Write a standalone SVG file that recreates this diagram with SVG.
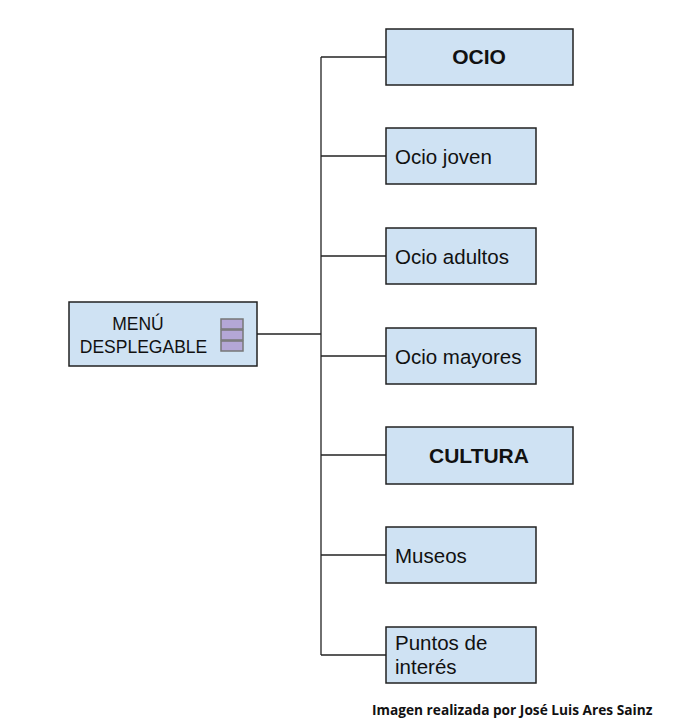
<svg xmlns="http://www.w3.org/2000/svg" width="697" height="728" viewBox="0 0 697 728">
<style>
.box{fill:#cfe2f3;stroke:#222;stroke-width:1.5}
.ln{stroke:#222;stroke-width:1.3;fill:none}
.t{font-family:"Liberation Sans",Arial,sans-serif;font-size:20.5px;fill:#111}
.b{font-weight:bold;font-size:21px}
.m{font-size:17.5px}
.bar{fill:#b4a7d6;stroke:#777;stroke-width:1.5}
.cr{font-family:"Open Sans","DejaVu Sans",sans-serif;font-weight:bold;font-size:13.7px;fill:#111}
</style>
<rect width="697" height="728" fill="#fff"/>
<g id="connectors">
<line class="ln" x1="321" y1="57" x2="321" y2="655"/>
<line class="ln" x1="257" y1="334" x2="321" y2="334"/>
<line class="ln" x1="321" y1="57" x2="386" y2="57"/>
<line class="ln" x1="321" y1="156" x2="386" y2="156"/>
<line class="ln" x1="321" y1="256" x2="386" y2="256"/>
<line class="ln" x1="321" y1="356" x2="386" y2="356"/>
<line class="ln" x1="321" y1="455" x2="386" y2="455"/>
<line class="ln" x1="321" y1="555" x2="386" y2="555"/>
<line class="ln" x1="321" y1="655" x2="386" y2="655"/>
</g>
<g id="menu">
<rect class="box" x="69" y="302" width="188" height="64"/>
<text class="t m" x="138" y="330" text-anchor="middle">MENÚ</text>
<text class="t m" x="143.5" y="353" text-anchor="middle">DESPLEGABLE</text>
<rect class="bar" x="221" y="319" width="22" height="10"/>
<rect class="bar" x="221" y="330" width="22" height="10"/>
<rect class="bar" x="221" y="341" width="22" height="10"/>
</g>
<g id="ocio">
<rect class="box" x="386" y="29" width="187" height="56"/>
<text class="t b" x="479" y="64" text-anchor="middle">OCIO</text>
</g>
<g id="ocio-joven">
<rect class="box" x="386" y="128" width="150" height="56"/>
<text class="t" x="395" y="164">Ocio joven</text>
</g>
<g id="ocio-adultos">
<rect class="box" x="386" y="228" width="150" height="56"/>
<text class="t" x="395" y="264">Ocio adultos</text>
</g>
<g id="ocio-mayores">
<rect class="box" x="386" y="328" width="150" height="56"/>
<text class="t" x="395" y="364">Ocio mayores</text>
</g>
<g id="cultura">
<rect class="box" x="386" y="427" width="187" height="57"/>
<text class="t b" x="479" y="463" text-anchor="middle">CULTURA</text>
</g>
<g id="museos">
<rect class="box" x="386" y="527" width="150" height="56"/>
<text class="t" x="395" y="563">Museos</text>
</g>
<g id="puntos">
<rect class="box" x="386" y="627" width="150" height="56"/>
<text class="t" x="395" y="650">Puntos de</text>
<text class="t" x="395" y="674">interés</text>
</g>
<text class="cr" x="372" y="715">Imagen realizada por José Luis Ares Sainz</text>
</svg>
